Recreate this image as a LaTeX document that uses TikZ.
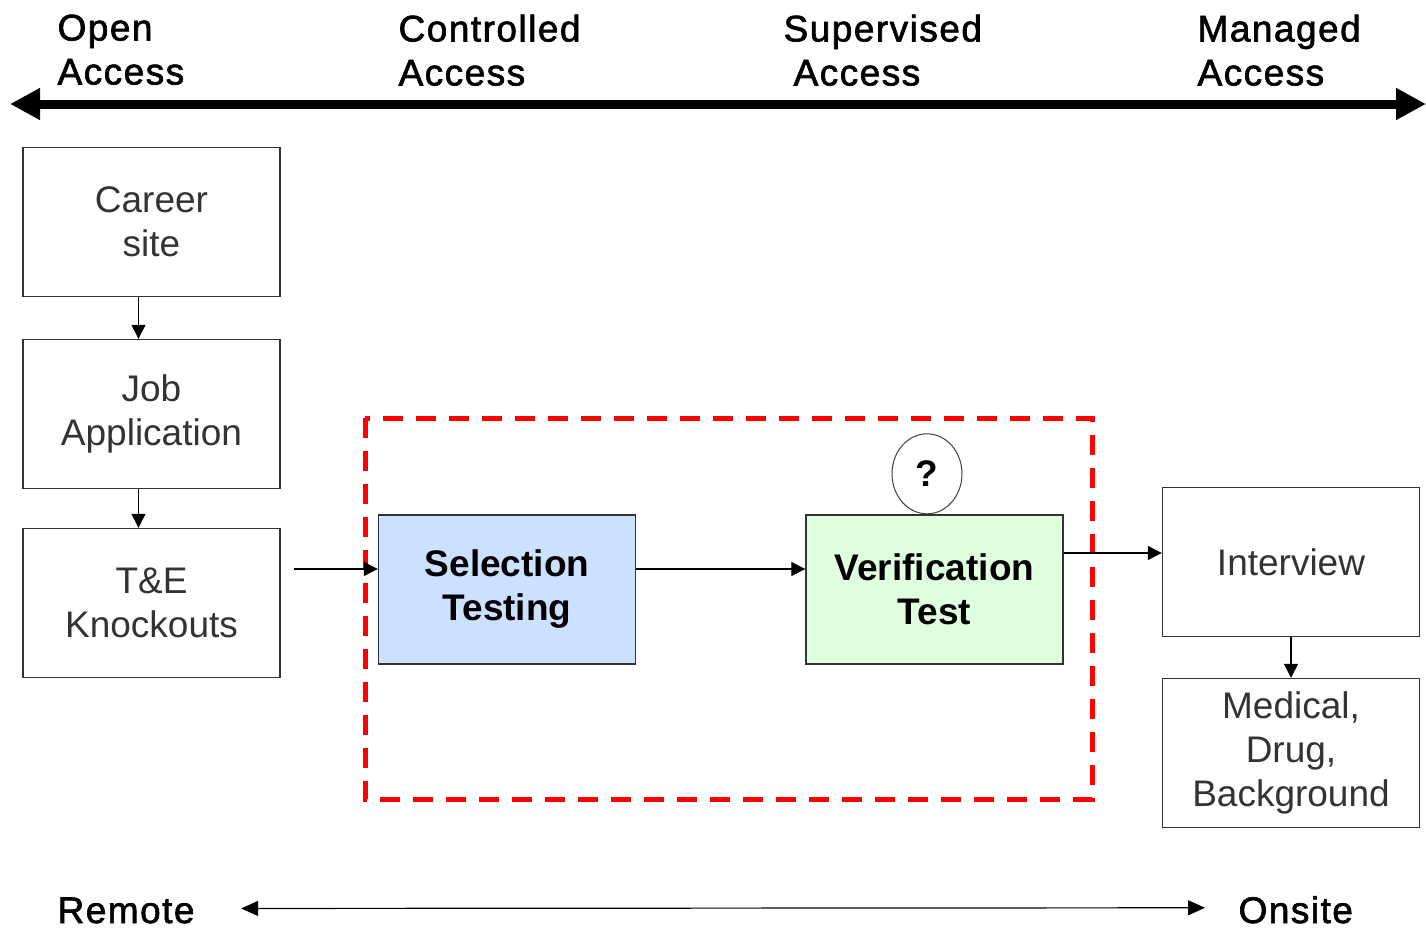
\documentclass[tikz,border=0pt]{standalone}
\usepackage{xcolor}
\usepackage{fontspec}
\setmainfont{Liberation Sans}
\newfontfamily\hdrfont{Liberation Sans}[FakeBold=1.8,LetterSpace=4]
\usepackage{tikz}
\usetikzlibrary{arrows.meta,shapes.geometric}
\definecolor{selblue}{RGB}{204,224,255}
\definecolor{vergreen}{RGB}{224,255,222}
\newcommand{\boxfont}{\fontsize{18.5}{22}\selectfont}
\tikzstyle{box_p} = [rectangle, draw=black!80, line width=0.7pt, text=black!80, font=\boxfont, align=center, inner sep=0pt, minimum width=128.5pt, minimum height=74.5pt]
\tikzstyle{box_s} = [box_p, fill=selblue, text=black, font=\boxfont\bfseries]
\tikzstyle{box_v} = [box_p, fill=vergreen, text=black, font=\boxfont\bfseries]
\tikzstyle{hdr_t} = [anchor=north west, align=left, inner sep=0pt, font=\hdrfont\boxfont]
\tikzstyle{end_t} = [anchor=base west, inner sep=0pt, font=\hdrfont\boxfont]

\begin{document}
\begin{tikzpicture}[x=0.5pt,y=-0.5pt,->,>={Triangle[length=7pt,width=7pt]},line width=0.6pt]
\useasboundingbox (0,0) rectangle (1426,928);

% access scale along the top
\node [hdr_t] (open) at (57,14) {Open\\Access};
\node [hdr_t] (ctrl) at (398,14) {Controlled\\Access};
\node [hdr_t] (supv) at (783,14) {Supervised\\\hspace*{5pt}Access};
\node [hdr_t] (mngd) at (1197,14) {Managed\\Access};
\coordinate (scale l) at (10,104);
\coordinate (scale r) at (1426,104);
\draw [{Triangle[length=15pt,width=15pt]}-{Triangle[length=15pt,width=15pt]}, line width=4.5pt] (scale l) -- (scale r);

% proctored part
\draw [-, red, line width=2.5pt, dash pattern=on 10pt off 6.5pt] (365,418) rectangle (1092,799);

\node [box_p] (career) at (151.5,222) {Career\\site};
\node [box_p] (job) at (151.5,414) {Job\\Application};
\node [box_p] (tek) at (151.5,603) {T\&E\\Knockouts};
\node [box_s] (sel) at (507,589.5) {Selection\\Testing};
\node [box_v] (ver) at (934.5,589.5) {Verification\\Test};
\node [ellipse, draw=black!75, line width=0.5pt, minimum width=35pt, minimum height=40pt, inner sep=0pt, anchor=south, font=\boxfont\bfseries] (qm) at ([xshift=-3.75pt]ver.north) {?};
\node [box_p] (intv) at (1291,562) {Interview};
\node [box_p] (med) at (1291,753) {Medical,\\Drug,\\Background};

\draw ([xshift=-6.5pt]career.south) -- ([xshift=-6.5pt]job.north);
\draw ([xshift=-6.5pt]job.south) -- ([xshift=-6.5pt]tek.north);
\coordinate (tek out) at ([shift={(6.5pt,17pt)}]tek.east);
\draw (tek out) -- (tek out -| sel.west);
\draw ([yshift=10.25pt]sel.east) -- ([yshift=10.25pt]ver.west);
\coordinate (ver out) at ([yshift=18.25pt]ver.east);
\draw (ver out) -- (ver out -| intv.west);
\draw (intv) -- (med);

% remote / onsite
\node [end_t] (remote) at (57,923) {Remote};
\node [end_t] (onsite) at (1238,923) {Onsite};
\draw [{Triangle[length=8.5pt,width=7.5pt]}-{Triangle[length=8.5pt,width=7.5pt]}] ([shift={(23pt,1pt)}]remote.east) -- ([shift={(-16.5pt,1pt)}]onsite.west);
\end{tikzpicture}
\end{document}
